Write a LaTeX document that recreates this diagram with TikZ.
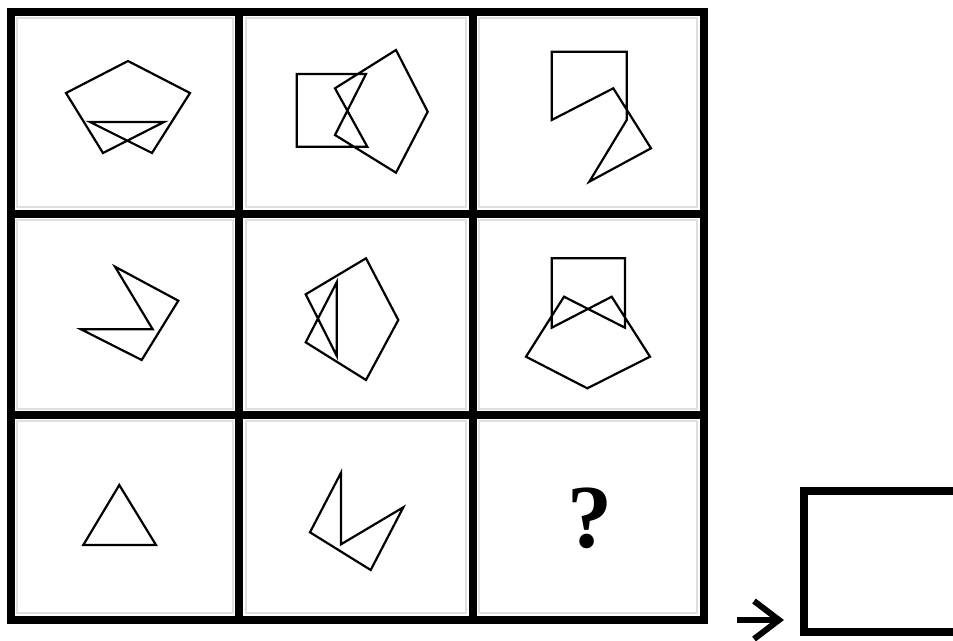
\documentclass[tikz,border=0pt]{standalone}
\usepackage{fontspec}
\newfontfamily\qfont{Liberation Serif}
\begin{document}
\begin{tikzpicture}[x=1pt,y=-1pt,
  gridline/.style={line width=8pt,line cap=rect},
  figline/.style={line width=2.2pt,line join=miter},
  ansbox/.style={line width=8pt}]
\useasboundingbox (0,0) rectangle (953,640);
\fill[white] (0,0) rectangle (953,640);
% faint gray inner edges of cells
\foreach \x/\xx in {15/235,244/468,477/699}{
  \foreach \y/\yy in {16/209,218/411,419/615}{
    \draw[gray!25,line width=2pt] (\x+2,\y+2) rectangle (\xx-2,\yy-2);
  }
}
% grid
\draw[gridline] (11,12) -- (704,12);
\draw[gridline] (11,214) -- (704,214);
\draw[gridline] (11,415) -- (704,415);
\draw[gridline] (11,620) -- (704,620);
\draw[gridline] (11,12) -- (11,620);
\draw[gridline] (239,12) -- (239,620);
\draw[gridline] (473,12) -- (473,620);
\draw[gridline] (704,12) -- (704,620);
% cell 1
\draw[figline] (66,93) -- (128,61) -- (190,93) -- (152,153) -- (90,122) -- (164,122) -- (103,153) -- cycle;
% cell 2
\draw[figline] (296.7,74) -- (366,74) -- (335,135) -- (396,172.7) -- (427.7,111.7) -- (396,50) -- (335,88.3) -- (367.3,146.7) -- (296.7,146.7) -- cycle;
% cell 3
\draw[figline] (551.7,51.7) -- (626.7,51.7) -- (626.7,120) -- (589.3,181.7) -- (651,148.3) -- (613.3,88.3) -- (551.7,120) -- cycle;
% cell 4
\draw[figline] (81,329.3) -- (152.7,329.3) -- (115,266.7) -- (178.3,300.7) -- (141.7,360) -- cycle;
% cell 5
\draw[figline] (336.7,282.3) -- (336.7,355.7) -- (305.7,294.3) -- (366,258.3) -- (398.3,320) -- (366,380) -- (305.7,342.3) -- cycle;
% cell 6
\draw[figline] (551.7,258.3) -- (625,258.3) -- (625,327.7) -- (564,296.7) -- (526,356.7) -- (587.3,388.3) -- (650,356.7) -- (611.7,296.7) -- (551.7,327.7) -- cycle;
% cell 7
\draw[figline] (119.3,485) -- (156,545) -- (83.3,545) -- cycle;
% cell 8
\draw[figline] (341,472.7) -- (341,544.3) -- (403.3,507.3) -- (370.7,570) -- (310,532.3) -- cycle;
% question mark
\node[inner sep=0pt,anchor=base] (q) at (590,547) {\qfont\bfseries\fontsize{90}{90}\selectfont ?};
% arrow
\coordinate (a0) at (737,620);
\coordinate (a1) at (779,620);
\coordinate (h1) at (754,601);
\coordinate (h2) at (754,639);
\draw[line width=6pt] (a0) -- (a1);
\draw[line width=6pt,line join=miter] (h1) -- (a1) -- (h2);
% answer box
\draw[ansbox] (804,491) rectangle (975,632);
\end{tikzpicture}
\end{document}
